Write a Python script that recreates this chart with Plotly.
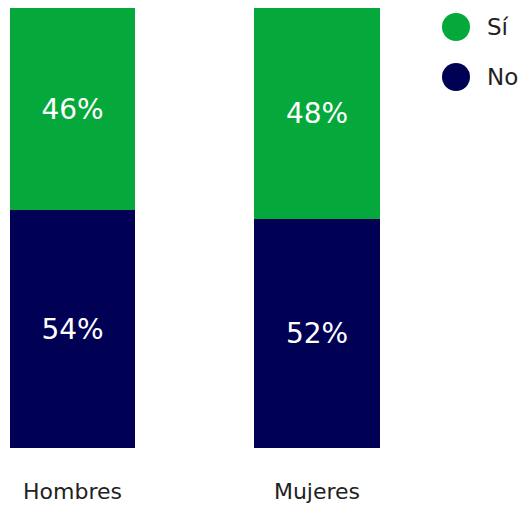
import plotly.graph_objects as go

categories = ["Hombres", "Mujeres"]
si_values = [46, 48]
no_values = [54, 52]
series_names = ["Sí", "No"]
series_colors = ["#05A83A", "#000055"]

FONT = "DejaVu Sans"

fig = go.Figure()
fig.add_trace(go.Bar(
    x=categories, y=no_values, name=series_names[1],
    marker=dict(color=series_colors[1], line=dict(width=0)),
    text=[f"{v}%" for v in no_values], textposition="inside",
    insidetextanchor="middle",
    textfont=dict(color="white", size=28, family=FONT),
    width=0.512, showlegend=False, hoverinfo="skip",
))
fig.add_trace(go.Bar(
    x=categories, y=si_values, name=series_names[0],
    marker=dict(color=series_colors[0], line=dict(width=0)),
    text=[f"{v}%" for v in si_values], textposition="inside",
    insidetextanchor="middle",
    textfont=dict(color="white", size=28, family=FONT),
    width=0.512, showlegend=False, hoverinfo="skip",
))

# legend drawn as circles + labels
shapes = []
annotations = []
leg_y = [27, 77]
for i, (nm, col) in enumerate(zip(series_names, series_colors)):
    yc = 1 - (leg_y[i] - 8) / 440.0
    shapes.append(dict(
        type="circle", xref="paper", yref="paper",
        xsizemode="pixel", ysizemode="pixel",
        xanchor=456 / 524.0, yanchor=yc,
        x0=-14, x1=14, y0=-14, y1=14,
        fillcolor=col, line=dict(width=0),
    ))
    annotations.append(dict(
        text=nm, xref="paper", yref="paper",
        x=485 / 524.0, y=yc, xanchor="left", yanchor="middle",
        showarrow=False, font=dict(size=23, color="#222222", family=FONT),
    ))

scale = 244.5
fig.update_layout(
    width=524, height=505,
    margin=dict(l=0, r=0, t=8, b=57),
    barmode="stack",
    plot_bgcolor="white", paper_bgcolor="white",
    font=dict(family=FONT),
    shapes=shapes, annotations=annotations,
    uniformtext=dict(mode=False),
    xaxis=dict(
        type="category", automargin=False,
        range=[-72.5 / scale, (524 - 72.5) / scale],
        showgrid=False, zeroline=False, showline=False,
        ticks="outside", ticklen=24, tickcolor="rgba(0,0,0,0)",
        tickfont=dict(size=22, color="#222222", family=FONT),
    ),
    yaxis=dict(range=[0, 100], visible=False, showgrid=False, zeroline=False,
               automargin=False),
)

fig.write_html("out.html")
